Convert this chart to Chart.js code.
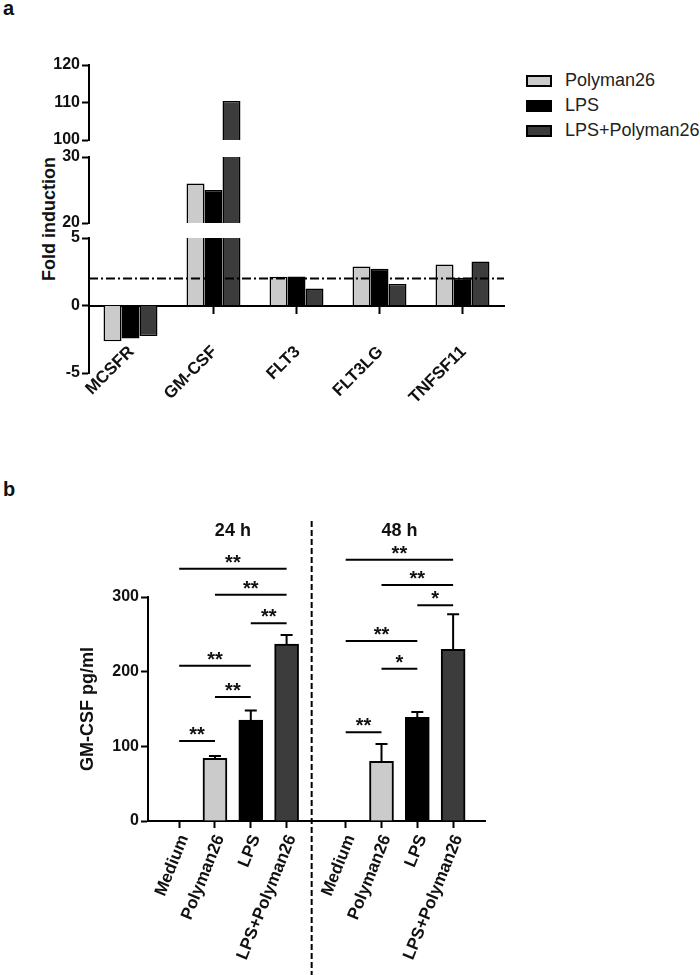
<!DOCTYPE html>
<html>
<head>
<meta charset="utf-8">
<script src="https://cdn.jsdelivr.net/npm/chart.js@4.4.1/dist/chart.umd.min.js"></script>
<style>
  body { margin: 0; background: #fff; font-family: "Liberation Sans", Arial, sans-serif; color: #111; }
  #page { position: relative; width: 700px; height: 975px; overflow: hidden; }
  canvas { position: absolute; left: 0; }
  .tag { position: absolute; font-weight: bold; font-size: 20px; line-height: 1; }
  #ytitleA { position: absolute; left: 49px; top: 219px; font-weight: bold; font-size: 18px; white-space: nowrap;
             transform: translate(-50%, -50%) rotate(-90deg); }
  #legend { position: absolute; left: 526px; top: 68px; font-size: 18px; color: #222; }
  .item { display: flex; align-items: center; height: 25px; }
  .swatch { width: 22px; height: 8px; border: 2px solid #000; margin-right: 13px; }
</style>
</head>
<body>
<div id="page">
  <div class="tag" style="left:3px; top:-2px">a</div>
  <div class="tag" style="left:3px; top:479px">b</div>
  <div id="ytitleA">Fold induction</div>
  <div id="legend"></div>
  <canvas id="segTop" width="520" height="99" style="top:53px"></canvas>
  <canvas id="segMid" width="520" height="90" style="top:145px"></canvas>
  <canvas id="segLow" width="520" height="207" style="top:226px"></canvas>
  <canvas id="elisa" width="700" height="495" style="top:480px"></canvas>
</div>
<script>
/* Panel a: fold induction per gene (broken y axis -> three stacked charts).
 * Panel b: GM-CSF ELISA at 24 h / 48 h with error bars and significance bars.
 */
const $ = (id) => document.getElementById(id);
const FONT = '"Liberation Sans", Arial, sans-serif';
const BLACK = "#000";
const TEXT = "#111";

// --- panel a data ---------------------------------------------------------
const genes = ["MCSFR", "GM-CSF", "FLT3", "FLT3LG", "TNFSF11"];
const seriesNames = ["Polyman26", "LPS", "LPS+Polyman26"];
const polyman26 = [-2.64, 26.0, 2.13, 2.89, 3.04];
const lps = [-2.44, 25.0, 2.15, 2.72, 2.05];
const lpsPolyman26 = [-2.25, 110.4, 1.26, 1.6, 3.26];
const THRESHOLD = 2;
const SERIES_COLORS = ["#cbcbcb", "#000000", "#3c3c3c"];

// y ranges of the three axis segments (top, middle, bottom)
const segMin = [100, 20, -5];
const segMax = [120, 30, 5];
const segStep = [10, 10, 5];

// --- panel b data ---------------------------------------------------------
const timepoints = ["24 h", "48 h"];
const treatments = ["Medium", "Polyman26", "LPS", "LPS+Polyman26"];
const mean24 = [0, 84, 135, 237];
const err24 = [0, 3, 13, 12];
const mean48 = [0, 80, 139, 230];
const err48 = [0, 23, 7, 47];
const TREAT_COLORS = ["#ffffff", "#cbcbcb", "#000000", "#3c3c3c"];

// significance bars: from/to bar index (0-7), height (pg/ml), label
const sigFrom = [0, 1, 2, 0, 1, 0, 4, 5, 6, 4, 5, 4];
const sigTo = [3, 3, 3, 2, 2, 1, 7, 7, 7, 6, 6, 5];
const sigY = [338, 303, 265, 208, 166, 107, 350, 316, 289, 241, 204, 119];
const sigText = ["**", "**", "**", "**", "**", "**", "**", "**", "*", "**", "*", "**"];

const GAP = 1.65;   // extra room between the two time point groups
const SPLIT = 3.7;  // dashed separator position

// --- common styling -------------------------------------------------------
const tickFont = { family: FONT, size: 16, weight: "bold" };
const labelFont = { family: FONT, size: 17, weight: "bold" };
const axisGrid = { drawOnChartArea: false, tickLength: 7, tickWidth: 2, tickColor: BLACK, offset: false };
const axisBorder = { color: BLACK, width: 2 };

function yAxis(min, max, step, width) {
  return {
    min, max,
    ticks: { stepSize: step, font: tickFont, color: TEXT, padding: 2 },
    grid: axisGrid,
    border: axisBorder,
    afterFit: (s) => { s.width = width; },
  };
}

// legend for panel a
seriesNames.forEach((name, i) => {
  const row = document.createElement("div");
  row.className = "item";
  row.innerHTML = `<span class="swatch" style="background:${SERIES_COLORS[i]}"></span>${name}`;
  $("legend").appendChild(row);
});

const thresholdLine = {
  id: "threshold",
  afterDatasetsDraw(chart) {
    const { ctx, chartArea: a, scales: { y } } = chart;
    const py = y.getPixelForValue(THRESHOLD);
    ctx.save();
    ctx.strokeStyle = BLACK;
    ctx.lineWidth = 2;
    ctx.setLineDash([9, 3, 2, 3]);
    ctx.beginPath();
    ctx.moveTo(a.left, py);
    ctx.lineTo(a.right, py);
    ctx.stroke();
    ctx.restore();
  },
};

function segmentChart(id, k) {
  const bottom = k === 2;
  const scales = {
    // gene labels hang from the bottom of the range (position object -> labels not clipped)
    x: bottom ? {
      position: { y: segMin[k] },
      offset: true,
      grid: { display: false, drawTicks: false },
      border: { display: false },
      ticks: { font: labelFont, color: TEXT, minRotation: 45, maxRotation: 45, autoSkip: false, padding: -31, labelOffset: 1 },
    } : { display: false, offset: true },
    y: yAxis(segMin[k], segMax[k], segStep[k], 60),
  };
  if (bottom) {
    // zero line with category ticks
    scales.x2 = {
      type: "category", axis: "x", position: { y: 0 }, offset: true, z: 1,
      ticks: { display: false },
      grid: axisGrid,
      border: axisBorder,
    };
  }
  return new Chart($(id), {
    type: "bar",
    data: {
      labels: genes,
      datasets: [polyman26, lps, lpsPolyman26].map((d, i) => ({
        label: seriesNames[i],
        data: d,
        backgroundColor: SERIES_COLORS[i],
        borderColor: BLACK,
        borderWidth: 1.5,
        categoryPercentage: 0.65,
        barPercentage: 1,
        clip: 0,
      })),
    },
    options: {
      responsive: false,
      animation: false,
      layout: { padding: { left: 29, right: 16, top: 12, bottom: bottom ? 60 : 12 } },
      scales,
      plugins: { legend: { display: false }, tooltip: { enabled: false } },
    },
    plugins: bottom ? [thresholdLine] : [],
  });
}

segmentChart("segTop", 0);
segmentChart("segMid", 1);
segmentChart("segLow", 2);

// --- panel b --------------------------------------------------------------
const barX = [];
timepoints.forEach((t, g) => treatments.forEach((_, i) => barX.push(i + g * (3 + GAP))));
const means = mean24.concat(mean48);
const errs = err24.concat(err48);
const barLabels = treatments.concat(treatments);

const annotateB = {
  id: "annotateB",
  afterDatasetsDraw(chart) {
    const { ctx, scales: { x, y } } = chart;
    ctx.save();
    ctx.strokeStyle = BLACK;
    ctx.fillStyle = TEXT;
    ctx.lineWidth = 2;
    // error bars (upper only)
    means.forEach((m, i) => {
      if (!errs[i]) return;
      const px = x.getPixelForValue(barX[i]);
      const top = y.getPixelForValue(m + errs[i]);
      ctx.beginPath();
      ctx.moveTo(px, y.getPixelForValue(m));
      ctx.lineTo(px, top);
      ctx.moveTo(px - 6, top);
      ctx.lineTo(px + 6, top);
      ctx.stroke();
    });
    // significance bars
    ctx.font = `bold 20px ${FONT}`;
    ctx.textAlign = "center";
    ctx.textBaseline = "alphabetic";
    sigY.forEach((v, i) => {
      const py = y.getPixelForValue(v);
      const x1 = x.getPixelForValue(barX[sigFrom[i]]);
      const x2 = x.getPixelForValue(barX[sigTo[i]]);
      ctx.beginPath();
      ctx.moveTo(x1, py);
      ctx.lineTo(x2, py);
      ctx.stroke();
      ctx.fillText(sigText[i], (x1 + x2) / 2, py);
    });
    // time point headers
    ctx.font = `bold 18px ${FONT}`;
    ctx.textBaseline = "middle";
    timepoints.forEach((t, g) => {
      ctx.fillText(t, x.getPixelForValue(1.5 + g * (3 + GAP)), 51);
    });
    // dashed separator
    ctx.setLineDash([6, 3]);
    const sx = x.getPixelForValue(SPLIT);
    ctx.beginPath();
    ctx.moveTo(sx, 41);
    ctx.lineTo(sx, chart.height);
    ctx.stroke();
    ctx.restore();
  },
};

new Chart($("elisa"), {
  type: "bar",
  data: {
    datasets: [{
      label: "GM-CSF",
      data: barX.map((x, i) => ({ x, y: means[i] })),
      backgroundColor: barLabels.map((_, i) => TREAT_COLORS[i % 4]),
      borderColor: BLACK,
      borderWidth: 2,
      barThickness: 24,
    }],
  },
  options: {
    responsive: false,
    animation: false,
    layout: { padding: { left: 77, right: 215, top: 117, bottom: 0 } },
    scales: {
      x: {
        type: "linear",
        offset: false,
        min: -0.87,
        max: 3 + GAP + 3 + 0.89,
        afterBuildTicks: (s) => { s.ticks = barX.map((v) => ({ value: v })); },
        ticks: {
          callback: (v, i) => barLabels[i],
          font: labelFont, color: TEXT, minRotation: 68, maxRotation: 68, autoSkip: false,
          padding: 4, labelOffset: 5,
        },
        grid: axisGrid,
        border: axisBorder,
        afterFit: (s) => { s.height = 154; },
      },
      y: Object.assign(yAxis(0, 300, 100, 71), {
        title: { display: true, text: "GM-CSF pg/ml", font: { family: FONT, size: 18, weight: "bold" }, color: TEXT, padding: 0 },
      }),
    },
    plugins: { legend: { display: false }, tooltip: { enabled: false } },
  },
  plugins: [annotateB],
});
</script>
</body>
</html>
